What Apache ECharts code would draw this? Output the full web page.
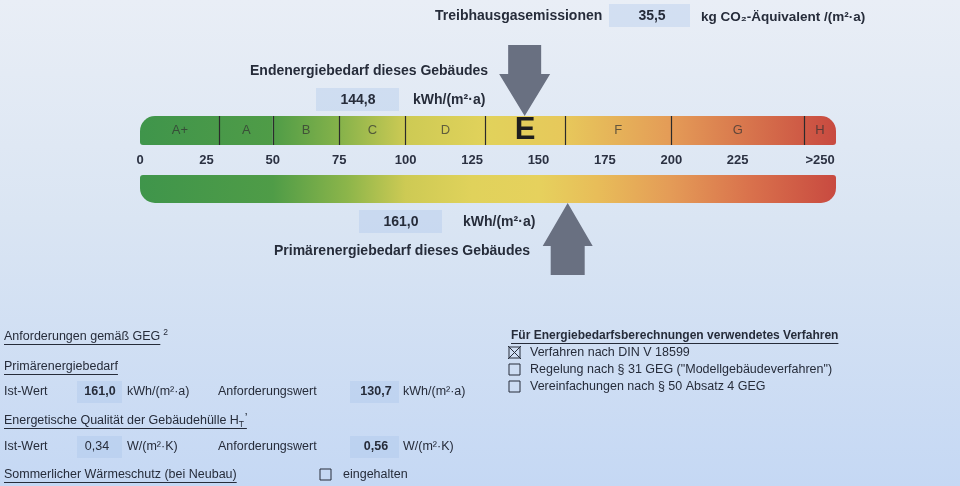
<!DOCTYPE html>
<html><head><meta charset="utf-8">
<script src="https://cdn.jsdelivr.net/npm/echarts@6/dist/echarts.min.js"></script>
<style>html,body{margin:0;padding:0;background:#d8e4f3;} #c{width:960px;height:486px;}</style>
</head><body><div id="c"></div>
<script>
// ---------- data ----------
const classNames = ['A+', 'A', 'B', 'C', 'D', 'E', 'F', 'G', 'H'];
const classBounds = [0, 30, 50, 75, 100, 130, 160, 200, 250, 262];
const tickValues = [0, 25, 50, 75, 100, 125, 150, 175, 200, 225, 250];
const tickLabels = ['0', '25', '50', '75', '100', '125', '150', '175', '200', '225', '>250'];
const ratingClass = 'E';
const endenergieValue = 144.8;
const primaerenergieValue = 161.0;
const ghgText = '35,5';
const endenergieText = '144,8';
const primaerenergieText = '161,0';
const reqPrimIst = '161,0';
const reqPrimSoll = '130,7';
const reqHtIst = '0,34';
const reqHtSoll = '0,56';

// ---------- styling helpers ----------
const FF = '"Liberation Sans", Arial, sans-serif';
const TC = '#262c3a';
const FS = 12.5;
const colorStops = [[0,'#3f954b'],[50,'#4f9c47'],[78,'#8cb54a'],[100,'#cdca54'],[125,'#e0d25b'],[150,'#e6d15d'],[172,'#e8bd59'],[200,'#e49b57'],[230,'#d9714c'],[262,'#c84a40']];
function h2r(h){return [parseInt(h.substr(1,2),16),parseInt(h.substr(3,2),16),parseInt(h.substr(5,2),16)];}
function colorAt(v){
  for(let i=0;i<colorStops.length-1;i++){
    const [a,ca]=colorStops[i],[b,cb]=colorStops[i+1];
    if(v<=b){const t=(v-a)/(b-a);const x=h2r(ca),y=h2r(cb);
      return 'rgb('+x.map((c,k)=>Math.round(c+(y[k]-c)*t)).join(',')+')';}
  }
  return colorStops[colorStops.length-1][1];
}
const scaleMax = classBounds[classBounds.length-1];
const mctx = document.createElement('canvas').getContext('2d');
function tw(t,size,bold){mctx.font=(bold?'bold ':'')+size+'px '+FF;return mctx.measureText(t).width;}

const G = [];
function text(x,y,t,size,bold,align,extra){
  const st = Object.assign({text:t, font:(bold?'bold ':'')+size+'px '+FF, fill:TC,
     textAlign:align||'left', align:align||'left', textVerticalAlign:'middle', verticalAlign:'middle'}, extra||{});
  G.push({type:'text', x:x, y:y, silent:true, z:20, style:st});
}
function uline(x,y,w){G.push({type:'line', silent:true, z:20, shape:{x1:x,y1:y,x2:x+w,y2:y}, style:{stroke:TC,lineWidth:1}});}
function utext(x,y,t,size,bold){text(x,y,t,size,bold);uline(x,y+7.5,tw(t,size,bold));}
function box(x1,y1,x2,y2){G.push({type:'rect', silent:true, z:10, shape:{x:x1,y:y1,width:x2-x1,height:y2-y1}, style:{fill:'rgba(165,192,234,0.32)'}});}
function cbox(x,y,crossed){
  G.push({type:'rect', silent:true, z:20, shape:{x:x,y:y,width:11,height:11}, style:{fill:'none',stroke:TC,lineWidth:1}});
  if(crossed){
    G.push({type:'line', silent:true, z:20, shape:{x1:x-1,y1:y-1,x2:x+12,y2:y+12}, style:{stroke:TC,lineWidth:1}});
    G.push({type:'line', silent:true, z:20, shape:{x1:x+12,y1:y-1,x2:x-1,y2:y+12}, style:{stroke:TC,lineWidth:1}});
  }
}

// top header
text(435,16,'Treibhausgasemissionen',14,true);
box(609,4,690,27); text(652,16,ghgText,14,true,'center');
text(701,17,'kg CO₂-Äquivalent /(m²·a)',13.5,true);
// Endenergie
text(250,71,'Endenergiebedarf dieses Gebäudes',14,true);
box(316,88,399,111); text(358,100,endenergieText,14,true,'center');
text(413,100,'kWh/(m²·a)',14,true);
// Primärenergie
box(359,210,442,233); text(401,222,primaerenergieText,14,true,'center');
text(463,222,'kWh/(m²·a)',14,true);
text(274,251,'Primärenergiebedarf dieses Gebäudes',14,true);

// bottom left
utext(4,337,'Anforderungen gemäß GEG',FS,false);
text(4+tw('Anforderungen gemäß GEG',FS,false)+3,333,'2',8.5,false);
utext(4,367,'Primärenergiebedarf',FS,false);
text(4,392,'Ist-Wert',FS,false);
box(77,381,122,403); text(100,392,reqPrimIst,FS,true,'center');
text(127,392,'kWh/(m²·a)',FS,false);
text(218,392,'Anforderungswert',FS,false);
box(350,381,399,403); text(376,392,reqPrimSoll,FS,true,'center');
text(403,392,'kWh/(m²·a)',FS,false);
(function(){
  const t='Energetische Qualität der Gebäudehülle H';
  text(4,421,t,FS,false);
  const w=tw(t,FS,false);
  text(4+w,424.5,'T',8.5,false);
  text(4+w+6,419,'’',FS,false);
  uline(4,428.5,w+8);
})();
text(4,447,'Ist-Wert',FS,false);
box(77,436,122,458); text(97,447,reqHtIst,FS,false,'center');
text(127,447,'W/(m²·K)',FS,false);
text(218,447,'Anforderungswert',FS,false);
box(350,436,399,458); text(376,447,reqHtSoll,FS,true,'center');
text(403,447,'W/(m²·K)',FS,false);
utext(4,475,'Sommerlicher Wärmeschutz (bei Neubau)',FS,false);
cbox(320,469,false); text(343,475,'eingehalten',FS,false);

// bottom right
utext(511,336,'Für Energiebedarfsberechnungen verwendetes Verfahren',12,true);
cbox(509,347,true); text(530,353,'Verfahren nach DIN V 18599',FS,false);
cbox(509,364,false); text(530,370,'Regelung nach § 31 GEG ("Modellgebäudeverfahren")',FS,false);
cbox(509,381,false); text(530,387,'Vereinfachungen nach § 50 Absatz 4 GEG',FS,false);

// ---------- series ----------
const last = classNames.length-1;
const topSeries = classNames.map((name,i)=>{
  const a=classBounds[i], b=classBounds[i+1];
  const isCur = name===ratingClass;
  const s = {
    type:'bar', name:name, xAxisIndex:0, yAxisIndex:0, stack:'cls', barWidth:'100%',
    data:[b-a], silent:true,
    itemStyle:{color:new echarts.graphic.LinearGradient(0,0,1,0,[{offset:0,color:colorAt(a)},{offset:1,color:colorAt(b)}]),
      borderRadius: i===0?[15,0,0,3]:(i===last?[0,15,3,0]:0)},
    label:{show:true, position:'inside', formatter:name, fontFamily:FF,
      fontSize:isCur?31:13, fontWeight:isCur?'bold':'normal', color:isCur?'#1e1e1e':'rgba(50,50,50,0.72)'}
  };
  if(i===0){
    s.markLine={silent:true, symbol:['none','none'], label:{show:false},
      lineStyle:{color:'#2b2b2b',width:1.2,type:'solid'},
      data:classBounds.slice(1,-1).map(v=>({xAxis:v}))};
  }
  return s;
});

const bottomSeries = {
  type:'bar', xAxisIndex:1, yAxisIndex:1, barWidth:'100%', silent:true,
  data:[scaleMax],
  itemStyle:{color:new echarts.graphic.LinearGradient(0,0,1,0,colorStops.map(s=>({offset:s[0]/scaleMax,color:s[1]}))),
    borderRadius:[3,3,15,15]}
};

const ARROW = '#697081';
function arrowDown(params,api){
  const p=api.coord([api.value(0),0]); const h=api.size([0,1])[1];
  const x=p[0], y=p[1]-h/2;
  return {type:'polygon', shape:{points:[[x,y],[x-25.5,y-42],[x-16.5,y-42],[x-16.5,y-71],[x+16.5,y-71],[x+16.5,y-42],[x+25.5,y-42]]}, style:{fill:ARROW}};
}
function arrowUp(params,api){
  const p=api.coord([api.value(0),0]); const h=api.size([0,1])[1];
  const x=p[0], y=p[1]+h/2;
  return {type:'polygon', shape:{points:[[x,y],[x-25,y+43],[x-17,y+43],[x-17,y+72],[x+17,y+72],[x+17,y+43],[x+25,y+43]]}, style:{fill:ARROW}};
}

const chart = echarts.init(document.getElementById('c'), null, {renderer:'canvas'});
chart.setOption({
  animation:false,
  backgroundColor:new echarts.graphic.LinearGradient(0,0,0,1,[{offset:0,color:'#e9eef6'},{offset:0.45,color:'#dae5f3'},{offset:1,color:'#c5d8f4'}]),
  grid:[{left:140,width:696,top:116,height:29},{left:140,width:696,top:175,height:28}],
  xAxis:[
    {gridIndex:0,type:'value',min:0,max:scaleMax,axisLine:{show:false},axisTick:{show:false},splitLine:{show:false},
     axisLabel:{show:true,customValues:tickValues,margin:9,fontFamily:FF,fontSize:13,fontWeight:'bold',color:'#2b3142',
       formatter:function(v){const i=tickValues.indexOf(v);const t=tickLabels[i];return i===tickValues.length-1?'{r|'+t+'}':t;},
       rich:{r:{fontFamily:FF,fontSize:13,fontWeight:'bold',color:'#2b3142',padding:[0,0,0,32]}}}},
    {gridIndex:1,type:'value',min:0,max:scaleMax,show:false}
  ],
  yAxis:[
    {gridIndex:0,type:'category',data:['Endenergie'],show:false},
    {gridIndex:1,type:'category',data:['Primärenergie'],show:false}
  ],
  series: topSeries.concat([bottomSeries,
    {type:'custom',xAxisIndex:0,yAxisIndex:0,data:[[endenergieValue,0]],renderItem:arrowDown,z:10,silent:true,clip:false},
    {type:'custom',xAxisIndex:1,yAxisIndex:1,data:[[primaerenergieValue,0]],renderItem:arrowUp,z:10,silent:true,clip:false}
  ]),
  graphic:G
});
</script>
</body></html>
